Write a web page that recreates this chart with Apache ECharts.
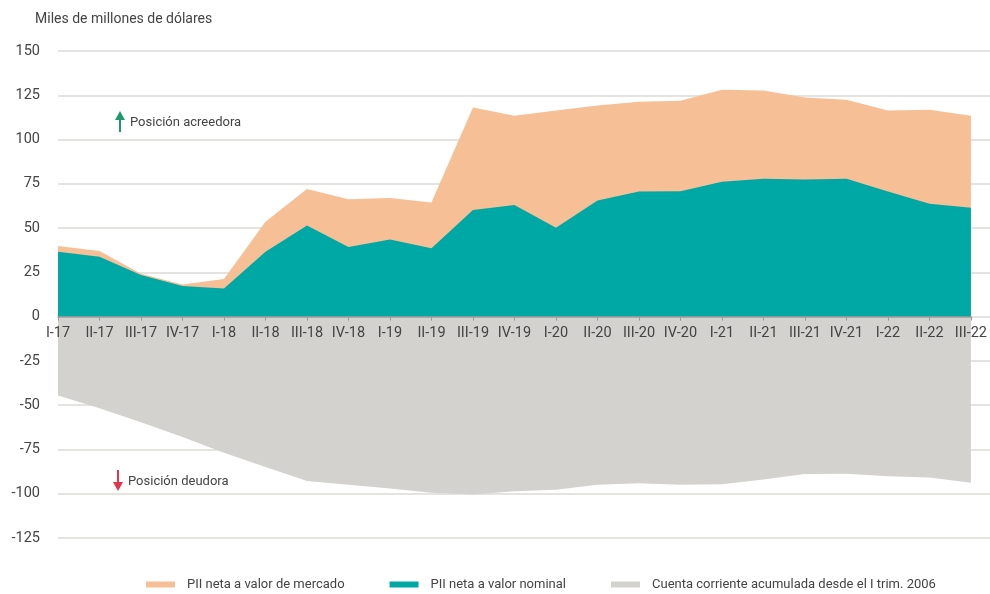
<!DOCTYPE html>
<html>
<head>
<meta charset="utf-8">
<script src="https://cdn.jsdelivr.net/npm/echarts@6/dist/echarts.min.js"></script>
<style>
  html, body { margin: 0; padding: 0; background: #fff; }
  #chart { width: 990px; height: 594px; }
</style>
</head>
<body>
<div id="chart"></div>
<script>
const quarters = ['I-17', 'II-17', 'III-17', 'IV-17', 'I-18', 'II-18', 'III-18', 'IV-18',
  'I-19', 'II-19', 'III-19', 'IV-19', 'I-20', 'II-20', 'III-20', 'IV-20',
  'I-21', 'II-21', 'III-21', 'IV-21', 'I-22', 'II-22', 'III-22']

// PII neta a valor de mercado
const marketValue = [39.9, 37.0, 24.2, 18.2, 21.2, 53.6, 72.1, 66.3, 67.0, 64.4, 118.1, 113.4,
  116.4, 119.2, 121.3, 121.9, 128.1, 127.7, 123.8, 122.5, 116.4, 116.8, 113.4]

// PII neta a valor nominal
const nominalValue = [36.7, 33.8, 23.5, 17.3, 15.9, 36.7, 51.4, 39.3, 43.5, 38.6, 60.2, 63.1,
  50.2, 65.6, 70.6, 70.8, 76.1, 77.8, 77.4, 77.9, 70.6, 63.8, 61.5]

// Cuenta corriente acumulada desde el I trim. 2006
const currentAccount = [-44.6, -51.7, -59.6, -68.0, -76.9, -84.9, -92.8, -94.9, -97.1, -99.4,
  -100.5, -98.6, -97.7, -95.0, -94.1, -95.0, -94.7, -91.9, -88.9, -88.7, -90.2, -90.9, -93.8]

const seriesNames = ['PII neta a valor de mercado', 'PII neta a valor nominal',
  'Cuenta corriente acumulada desde el I trim. 2006']

const yMin = -125
const yMax = 150

const font = "Roboto, sans-serif"
const textColor = '#444'

const gridTop = 51
const gridBottom = 56
const chartHeight = 594

// the category axis sits on the zero line
const plotHeight = chartHeight - gridTop - gridBottom
const zeroOffset = -plotHeight * (0 - yMin) / (yMax - yMin)

const chart = echarts.init(document.getElementById('chart'))

const areaSeries = (name, data, color) => ({
  name,
  type: 'line',
  data,
  xAxisIndex: 0,
  yAxisIndex: 0,
  showSymbol: false,
  symbol: 'none',
  lineStyle: { width: 0 },
  itemStyle: { color },
  areaStyle: { color, opacity: 1 },
  silent: true,
})

chart.setOption({
  animation: false,
  textStyle: { fontFamily: font },
  grid: [
    { left: 58, right: 15, top: gridTop, bottom: gridBottom },
    { left: 58, right: 0, top: gridTop, bottom: gridBottom },
  ],
  xAxis: [
    {
      type: 'category',
      gridIndex: 0,
      data: quarters,
      boundaryGap: false,
      position: 'bottom',
      offset: zeroOffset,
      axisLine: { onZero: false, lineStyle: { color: '#9a9a9a', width: 1.5 } },
      axisTick: { show: true, length: 4, inside: false, lineStyle: { color: '#9a9a9a' } },
      axisLabel: { interval: 0, color: textColor, fontSize: 14.5, fontFamily: font, margin: 9 },
      z: 10,
    },
    {
      type: 'value',
      gridIndex: 1,
      show: false,
    },
  ],
  yAxis: [
    {
      type: 'value',
      gridIndex: 0,
      min: yMin,
      max: yMax,
      interval: 25,
      axisLine: { show: false },
      axisTick: { show: false },
      splitLine: { show: false },
      axisLabel: { color: textColor, fontSize: 14.5, fontFamily: font, margin: 18 },
    },
    {
      type: 'value',
      gridIndex: 1,
      min: yMin,
      max: yMax,
      interval: 25,
      axisLine: { show: false },
      axisTick: { show: false },
      axisLabel: { show: false },
      splitLine: { show: true, lineStyle: { color: '#dcdad6', width: 1.5 } },
    },
  ],
  legend: {
    left: 146,
    top: 578,
    padding: 0,
    width: 840,
    itemWidth: 29,
    itemHeight: 6,
    itemGap: 45,
    icon: 'rect',
    data: seriesNames,
    textStyle: { color: textColor, fontSize: 13, fontFamily: font, padding: [0, 0, 0, 7] },
  },
  series: [
    areaSeries(seriesNames[2], currentAccount, '#d3d2ce'),
    areaSeries(seriesNames[0], marketValue, '#f7bf96'),
    areaSeries(seriesNames[1], nominalValue, '#00a8a5'),
  ],
  graphic: [
    {
      type: 'text',
      left: 35,
      top: 12,
      style: { text: 'Miles de millones de dólares', fill: textColor, font: `14px ${font}` },
    },
    // arrow up: Posición acreedora
    {
      type: 'line',
      shape: { x1: 120, y1: 118, x2: 120, y2: 132 },
      style: { stroke: '#1f9a6e', lineWidth: 2 },
    },
    {
      type: 'polygon',
      shape: { points: [[115, 120], [125, 120], [120, 111]] },
      style: { fill: '#1f9a6e' },
    },
    {
      type: 'text',
      left: 130,
      top: 116,
      style: { text: 'Posición acreedora', fill: textColor, font: `13px ${font}` },
    },
    // arrow down: Posición deudora
    {
      type: 'line',
      shape: { x1: 118, y1: 470, x2: 118, y2: 484 },
      style: { stroke: '#e6334c', lineWidth: 2 },
    },
    {
      type: 'polygon',
      shape: { points: [[113, 482], [123, 482], [118, 491]] },
      style: { fill: '#e6334c' },
    },
    {
      type: 'text',
      left: 128,
      top: 475,
      style: { text: 'Posición deudora', fill: textColor, font: `13px ${font}` },
    },
  ],
})
</script>
</body>
</html>
